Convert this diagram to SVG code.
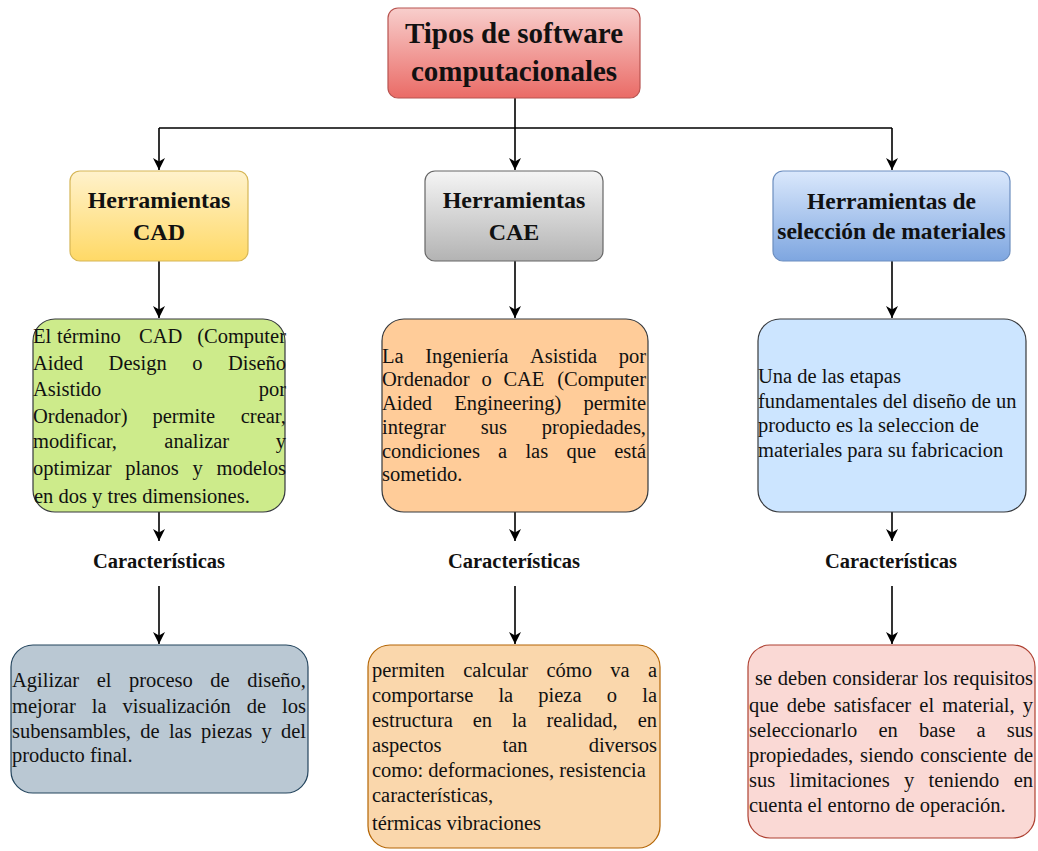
<svg xmlns="http://www.w3.org/2000/svg" width="1038" height="851" viewBox="0 0 1038 851">
<style>
.h{font-family:"Liberation Serif","Times New Roman",serif;font-weight:bold;fill:#111;text-anchor:middle}
.t{font-family:"Liberation Serif","Times New Roman",serif;font-size:20.5px;fill:#111}
.e{text-anchor:end}
.c{fill:none;stroke:#000;stroke-width:1.6}
</style>
<defs>
<linearGradient id="gRed" x1="0" y1="0" x2="0" y2="1"><stop offset="0" stop-color="#f8cecc"/><stop offset="1" stop-color="#ea6b66"/></linearGradient>
<linearGradient id="gYel" x1="0" y1="0" x2="0" y2="1"><stop offset="0" stop-color="#fff2cc"/><stop offset="1" stop-color="#ffd966"/></linearGradient>
<linearGradient id="gGry" x1="0" y1="0" x2="0" y2="1"><stop offset="0" stop-color="#f5f5f5"/><stop offset="1" stop-color="#b3b3b3"/></linearGradient>
<linearGradient id="gBlu" x1="0" y1="0" x2="0" y2="1"><stop offset="0" stop-color="#dae8fc"/><stop offset="1" stop-color="#7ea6e0"/></linearGradient>
<marker id="arr" markerUnits="userSpaceOnUse" markerWidth="14" markerHeight="14" refX="12" refY="6" orient="auto">
<path d="M0,0 L12,6 L0,12 L3.5,6 z" fill="#000"/>
</marker>
</defs>

<g id="connectors">
<path class="c" d="M515,98 V128 M159,128 H892"/>
<path class="c" d="M159,128 V170" marker-end="url(#arr)"/>
<path class="c" d="M515,128 V170" marker-end="url(#arr)"/>
<path class="c" d="M892,128 V170" marker-end="url(#arr)"/>
<path class="c" d="M159,261 V318" marker-end="url(#arr)"/>
<path class="c" d="M515,261 V318" marker-end="url(#arr)"/>
<path class="c" d="M892,261 V318" marker-end="url(#arr)"/>
<path class="c" d="M159,512 V541" marker-end="url(#arr)"/>
<path class="c" d="M515,512 V541" marker-end="url(#arr)"/>
<path class="c" d="M892,512 V541" marker-end="url(#arr)"/>
<path class="c" d="M159,586 V644" marker-end="url(#arr)"/>
<path class="c" d="M515,586 V644" marker-end="url(#arr)"/>
<path class="c" d="M892,586 V644" marker-end="url(#arr)"/>
</g>

<g id="root">
<rect x="388" y="8" width="252" height="90" rx="10" fill="url(#gRed)" stroke="#b85450" stroke-width="1.2"/>
<text class="h" x="514" y="43" font-size="29">Tipos de software</text>
<text class="h" x="514" y="81" font-size="29">computacionales</text>
</g>

<g id="cad">
<rect x="70" y="171" width="178" height="90" rx="10" fill="url(#gYel)" stroke="#d6b656" stroke-width="1.2"/>
<text class="h" x="159" y="208" font-size="24">Herramientas</text>
<text class="h" x="159" y="240" font-size="24">CAD</text>
</g>

<g id="cae">
<rect x="425" y="171" width="178" height="90" rx="10" fill="url(#gGry)" stroke="#666666" stroke-width="1.2"/>
<text class="h" x="514" y="208" font-size="24">Herramientas</text>
<text class="h" x="514" y="240" font-size="24">CAE</text>
</g>

<g id="materiales">
<rect x="773" y="171" width="237" height="90" rx="10" fill="url(#gBlu)" stroke="#6c8ebf" stroke-width="1.2"/>
<text class="h" x="891.5" y="209" font-size="23.5">Herramientas de</text>
<text class="h" x="891.5" y="239" font-size="23.5">selección de materiales</text>
</g>

<g id="cad-desc">
<rect x="33" y="319" width="252" height="193" rx="22" fill="#cdeb8b" stroke="#36393d" stroke-width="1.2"/>
<text class="t" y="343"><tspan x="33">El</tspan><tspan x="57">término</tspan><tspan x="139">CAD</tspan></text>
<text class="t e" x="286" y="343">(Computer</text>
<text class="t" y="370"><tspan x="33">Aided</tspan><tspan x="108.6">Design</tspan><tspan x="192.2">o</tspan></text>
<text class="t e" x="286" y="370">Diseño</text>
<text class="t" x="33" y="396">Asistido</text>
<text class="t e" x="286" y="396">por</text>
<text class="t" y="423"><tspan x="33">Ordenador)</tspan><tspan x="152.4">permite</tspan></text>
<text class="t e" x="286" y="423">crear,</text>
<text class="t" y="448"><tspan x="33">modificar,</tspan><tspan x="164.3">analizar</tspan></text>
<text class="t e" x="286" y="448">y</text>
<text class="t" y="475"><tspan x="33">optimizar</tspan><tspan x="125.3">planos</tspan><tspan x="192.5">y</tspan></text>
<text class="t e" x="286" y="475">modelos</text>
<text class="t" x="34" y="503">en dos y tres dimensiones.</text>
</g>

<g id="cae-desc">
<rect x="382" y="319" width="266" height="193" rx="22" fill="#ffcc99" stroke="#36393d" stroke-width="1.2"/>
<text class="t" y="363"><tspan x="382">La</tspan><tspan x="425.2">Ingeniería</tspan><tspan x="529.9">Asistida</tspan></text>
<text class="t e" x="646" y="363">por</text>
<text class="t" y="386"><tspan x="382">Ordenador</tspan><tspan x="481.4">o</tspan><tspan x="503.4">CAE</tspan></text>
<text class="t e" x="646" y="386">(Computer</text>
<text class="t" y="410"><tspan x="382">Aided</tspan><tspan x="454.3">Engineering)</tspan></text>
<text class="t e" x="646" y="410">permite</text>
<text class="t" y="434"><tspan x="382">integrar</tspan><tspan x="480.7">sus</tspan></text>
<text class="t e" x="646" y="434">propiedades,</text>
<text class="t" y="458"><tspan x="382">condiciones</tspan><tspan x="498.1">a</tspan><tspan x="525.4">las</tspan><tspan x="566.4">que</tspan></text>
<text class="t e" x="646" y="458">está</text>
<text class="t" x="382" y="481">sometido.</text>
</g>

<g id="mat-desc">
<rect x="758" y="319" width="268" height="193" rx="22" fill="#cce5ff" stroke="#36393d" stroke-width="1.2"/>
<text class="t" x="758" y="383">Una de las etapas</text>
<text class="t" x="758" y="407.5">fundamentales del diseño de un</text>
<text class="t" x="758" y="432">producto es la seleccion de</text>
<text class="t" x="758" y="456.5">materiales para su fabricacion</text>
</g>

<g id="caract-cad"><text class="h" x="159" y="568" font-size="20.5">Características</text></g>
<g id="caract-cae"><text class="h" x="514" y="568" font-size="20.5">Características</text></g>
<g id="caract-mat"><text class="h" x="891" y="568" font-size="20.5">Características</text></g>

<g id="cad-caract">
<rect x="11" y="645" width="297" height="148" rx="22" fill="#bac8d3" stroke="#23445d" stroke-width="1.2"/>
<text class="t" y="687"><tspan x="12">Agilizar</tspan><tspan x="96.7">el</tspan><tspan x="129">proceso</tspan><tspan x="210.3">de</tspan></text>
<text class="t e" x="306" y="687">diseño,</text>
<text class="t" y="713"><tspan x="12">mejorar</tspan><tspan x="91.8">la</tspan><tspan x="122.6">visualización</tspan><tspan x="246.8">de</tspan></text>
<text class="t e" x="306" y="713">los</text>
<text class="t" y="738"><tspan x="12">subensambles,</tspan><tspan x="140.3">de</tspan><tspan x="168.9">las</tspan><tspan x="201">piezas</tspan><tspan x="261.4">y</tspan></text>
<text class="t e" x="306" y="738">del</text>
<text class="t" x="12" y="762">producto final.</text>
</g>

<g id="cae-caract">
<rect x="368" y="645" width="292" height="203" rx="22" fill="#fad7ac" stroke="#b46504" stroke-width="1.2"/>
<text class="t" y="677"><tspan x="372">permiten</tspan><tspan x="463.2">calcular</tspan><tspan x="546.4">cómo</tspan><tspan x="610.3">va</tspan></text>
<text class="t e" x="657" y="677">a</text>
<text class="t" y="702"><tspan x="372">comportarse</tspan><tspan x="498.4">la</tspan><tspan x="538.3">pieza</tspan><tspan x="606.7">o</tspan></text>
<text class="t e" x="657" y="702">la</text>
<text class="t" y="727"><tspan x="372">estructura</tspan><tspan x="472.7">en</tspan><tspan x="511.9">la</tspan><tspan x="546.5">realidad,</tspan></text>
<text class="t e" x="657" y="727">en</text>
<text class="t" y="752"><tspan x="372">aspectos</tspan><tspan x="502.5">tan</tspan></text>
<text class="t e" x="657" y="752">diversos</text>
<text class="t" x="372" y="777">como: deformaciones, resistencia</text>
<text class="t" x="372" y="802">características,</text>
<text class="t" x="372" y="830">térmicas vibraciones</text>
</g>

<g id="mat-caract">
<rect x="748" y="645" width="287" height="193" rx="22" fill="#fad9d5" stroke="#ae4132" stroke-width="1.2"/>
<text class="t" y="685"><tspan x="755">se</tspan><tspan x="777.8">deben</tspan><tspan x="832.5">considerar</tspan><tspan x="923.6">los</tspan></text>
<text class="t e" x="1033" y="685">requisitos</text>
<text class="t" y="711.5"><tspan x="749">que</tspan><tspan x="786.8">debe</tspan><tspan x="833.7">satisfacer</tspan><tspan x="919.3">el</tspan><tspan x="942.3">material,</tspan></text>
<text class="t e" x="1033" y="711.5">y</text>
<text class="t" y="736.5"><tspan x="749">seleccionarlo</tspan><tspan x="878.4">en</tspan><tspan x="919">base</tspan><tspan x="976.6">a</tspan></text>
<text class="t e" x="1033" y="736.5">sus</text>
<text class="t" y="761.5"><tspan x="749">propiedades,</tspan><tspan x="860">siendo</tspan><tspan x="920.3">consciente</tspan></text>
<text class="t e" x="1033" y="761.5">de</text>
<text class="t" y="786.5"><tspan x="749">sus</tspan><tspan x="789.5">limitaciones</tspan><tspan x="904">y</tspan><tspan x="928.6">teniendo</tspan></text>
<text class="t e" x="1033" y="786.5">en</text>
<text class="t" x="749" y="811.5">cuenta el entorno de operación.</text>
</g>
</svg>
